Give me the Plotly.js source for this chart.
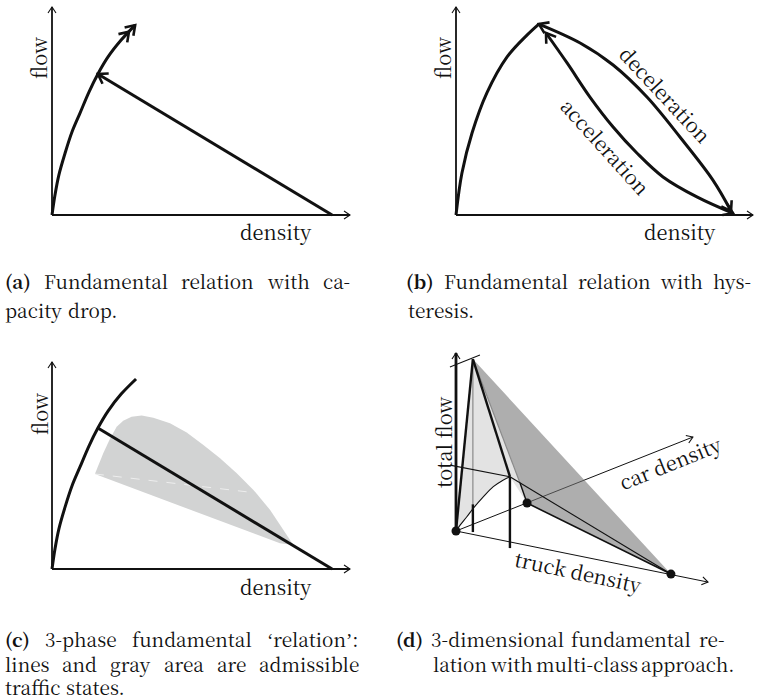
<!DOCTYPE html>
<html><head><meta charset="utf-8">
<script src="https://cdn.plot.ly/plotly-3.0.1.min.js"></script>
<style>html,body{margin:0;padding:0;background:#fff}</style>
</head><body><div id="chart" style="width:760px;height:700px"></div>
<script>
// ================= DATA (relative density / flow units) =================
// (a) capacity drop
const aFreeX = [0, 0.010, 0.023, 0.044, 0.067, 0.094, 0.124, 0.154, 0.188, 0.232, 0.279];
const aFreeY = [0, 0.096, 0.192, 0.298, 0.399, 0.490, 0.591, 0.678, 0.760, 0.841, 0.913];
const aCongX = [0.94, 0.154];
const aCongY = [0, 0.678];
// (b) hysteresis
const bFreeX = [0, 0.020, 0.054, 0.104, 0.172, 0.239, 0.279];
const bFreeY = [0, 0.202, 0.394, 0.587, 0.760, 0.865, 0.918];
const bDecelX = [0.279, 0.418, 0.529, 0.643, 0.754, 0.865, 0.926];
const bDecelY = [0.918, 0.827, 0.721, 0.567, 0.375, 0.168, 0.019];
const bAccelX = [0.933, 0.811, 0.697, 0.609, 0.529, 0.451, 0.374, 0.303];
const bAccelY = [0.008, 0.087, 0.183, 0.298, 0.423, 0.567, 0.731, 0.875];
// (c) 3-phase
const cFreeX = [0, 0.010, 0.023, 0.044, 0.067, 0.094, 0.124, 0.154, 0.188, 0.232, 0.282];
const cFreeY = [0, 0.097, 0.193, 0.300, 0.401, 0.493, 0.594, 0.681, 0.763, 0.845, 0.918];
const cCongX = [0.154, 0.94];
const cCongY = [0.681, 0];
const cAreaX = [0.144, 0.172, 0.195, 0.217, 0.239, 0.267, 0.301, 0.340, 0.396, 0.452, 0.508, 0.564, 0.620, 0.676, 0.732, 0.776, 0.810, 0.765, 0.144];
const cAreaY = [0.459, 0.559, 0.631, 0.687, 0.716, 0.736, 0.741, 0.731, 0.704, 0.659, 0.599, 0.535, 0.462, 0.382, 0.285, 0.188, 0.116, 0.124, 0.459];
const cSeamX = [0.144, 0.653];
const cSeamY = [0.459, 0.373];
// (d) multi-class, projected coordinates
const dPeak = [0.067, 0.966];
const dP2 = [0.214, 0.305];
const dQ = [0.254, 0.270];
const dC = [0.282, 0.157];
const dT = [0.853, -0.242];
const dCarEnd = [0.940, 0.528];
const dTruckEnd = [1.0, -0.287];
const dCurveX = [0, 0.017, 0.043, 0.069, 0.109, 0.148, 0.188, 0.214];
const dCurveY = [0, 0.034, 0.080, 0.128, 0.193, 0.249, 0.287, 0.305];
const dTickX = [-0.024, 0.095];
const dTickY = [0.921, 0.989];
const dGuideX = [-0.024, 0.214];
const dGuideY = [0.370, 0.305];
const dVert1 = {x: 0.067, top: 0.966, mid: 0.15, bot: -0.006};
const dVert2 = {x: 0.214, top: 0.305, bot: -0.096};

// text (each caption line is a list of words)
const Q1 = '<span style="font-family:serif">\u2018</span>';
const Q2 = '<span style="font-family:serif">\u2019</span>';
const capA = [['<b>(a)</b>', 'Fundamental', 'relation', 'with', 'ca-'], ['pacity', 'drop.']];
const capB = [['<b>(b)</b>', 'Fundamental', 'relation', 'with', 'hys-'], ['teresis.']];
const capC = [['<b>(c)</b>', '3-phase', 'fundamental', Q1 + 'relation' + Q2 + ':'], ['lines', 'and', 'gray', 'area', 'are', 'admissible'], ['traffic', 'states.']];
const capD = [['<b>(d)</b>', '3-dimensional', 'fundamental', 're-'], ['lation', 'with', 'multi-class', 'approach.']];

// ================= LAYOUT HELPERS =================
const W = 760, H = 700;
const FONT = 'Noto Serif CJK SC';
const BLACK = '#111111';
const P = {
  a: {n: '', x0: 52, x1: 350, y0: 215, y1: 7, xr: [-0.03, 1.03], yr: [-0.05, 1.03]},
  b: {n: '2', x0: 456, x1: 753, y0: 215, y1: 7, xr: [-0.03, 1.02], yr: [-0.05, 1.03]},
  c: {n: '3', x0: 52, x1: 350, y0: 569, y1: 362, xr: [-0.03, 1.03], yr: [-0.05, 1.05]},
  d: {n: '4', x0: 456, x1: 708, y0: 531, y1: 353, xr: [-0.06, 1.06], yr: [-0.36, 1.05]}
};
Object.values(P).forEach(p => { p.sx = p.x1 - p.x0; p.sy = p.y0 - p.y1; });

const traces = [];
function line(pk, xs, ys, w, color, opts) {
  const p = P[pk]; opts = opts || {};
  traces.push({type: 'scatter', mode: 'lines', x: xs, y: ys, xaxis: 'x' + p.n, yaxis: 'y' + p.n,
    hoverinfo: 'skip', showlegend: false,
    line: {color: color || BLACK, width: w, shape: opts.shape || 'linear', dash: opts.dash || 'solid', smoothing: opts.smoothing || 1}});
}
function area(pk, xs, ys, color) {
  const p = P[pk];
  traces.push({type: 'scatter', mode: 'lines', x: xs, y: ys, xaxis: 'x' + p.n, yaxis: 'y' + p.n,
    hoverinfo: 'skip', showlegend: false, fill: 'toself', fillcolor: color, line: {width: 0, color: color}});
}
function dots(pk, xs, ys) {
  const p = P[pk];
  traces.push({type: 'scatter', mode: 'markers', x: xs, y: ys, xaxis: 'x' + p.n, yaxis: 'y' + p.n,
    hoverinfo: 'skip', showlegend: false, cliponaxis: false, marker: {size: 9, color: BLACK}});
}
function pointBack(pk, xs, ys, fromStart, back) {
  const p = P[pk];
  let X = xs.map(v => v * p.sx), Y = ys.map(v => v * p.sy);
  if (fromStart) { X = X.slice().reverse(); Y = Y.slice().reverse(); }
  let i = X.length - 1, cx = X[i], cy = Y[i], rem = back;
  while (rem > 0 && i > 0) {
    const dx = X[i - 1] - cx, dy = Y[i - 1] - cy, d = Math.hypot(dx, dy);
    if (d >= rem) { cx += dx * rem / d; cy += dy * rem / d; rem = 0; break; }
    rem -= d; i--; cx = X[i]; cy = Y[i];
  }
  return [cx, cy];
}
function arrow(pk, xs, ys, fromStart, back, len, half, w) {
  const p = P[pk];
  const tip = pointBack(pk, xs, ys, fromStart, back);
  const pre = pointBack(pk, xs, ys, fromStart, back + 8);
  let ux = tip[0] - pre[0], uy = tip[1] - pre[1];
  const d = Math.hypot(ux, uy); ux /= d; uy /= d;
  const bx = tip[0] - len * ux, by = tip[1] - len * uy;
  const nx = -uy, ny = ux;
  line(pk, [(bx + half * nx) / p.sx, tip[0] / p.sx, (bx - half * nx) / p.sx],
           [(by + half * ny) / p.sy, tip[1] / p.sy, (by - half * ny) / p.sy], w, BLACK);
}
const bigArrow = (pk, xs, ys, fromStart, back) => arrow(pk, xs, ys, fromStart, back || 0, 9, 6, 2.6);
const axArrow = (pk, xs, ys) => arrow(pk, xs, ys, false, 0, 6, 4, 1.1);

// ================= PANEL (a) =================
line('a', [0, 1], [0, 0], 1.8); axArrow('a', [0, 1], [0, 0]);
line('a', [0, 0], [0, 1], 1.8); axArrow('a', [0, 0], [0, 1]);
line('a', aFreeX, aFreeY, 3, BLACK, {shape: 'spline'});
line('a', aCongX, aCongY, 3);
bigArrow('a', aFreeX, aFreeY, false, 0);
bigArrow('a', aFreeX, aFreeY, false, 9);
bigArrow('a', aCongX, aCongY, false, 0);

// ================= PANEL (b) =================
line('b', [0, 1], [0, 0], 1.8); axArrow('b', [0, 1], [0, 0]);
line('b', [0, 0], [0, 1], 1.8); axArrow('b', [0, 0], [0, 1]);
line('b', bFreeX, bFreeY, 3, BLACK, {shape: 'spline'});
line('b', bDecelX, bDecelY, 3, BLACK, {shape: 'spline'});
line('b', bAccelX, bAccelY, 3, BLACK, {shape: 'spline'});
bigArrow('b', bDecelX, bDecelY, false, 0);
bigArrow('b', bDecelX, bDecelY, true, 0);
bigArrow('b', bAccelX, bAccelY, false, 0);
bigArrow('b', bAccelX, bAccelY, true, 0);

// ================= PANEL (c) =================
area('c', cAreaX, cAreaY, '#d2d3d3');
line('c', cSeamX, cSeamY, 1, 'rgba(255,255,255,0.6)', {dash: 'dash'});
line('c', [0, 1], [0, 0], 1.8); axArrow('c', [0, 1], [0, 0]);
line('c', [0, 0], [0, 1], 1.8); axArrow('c', [0, 0], [0, 1]);
line('c', cFreeX, cFreeY, 3, BLACK, {shape: 'spline'});
line('c', cCongX, cCongY, 3);

// ================= PANEL (d) =================
area('d', [0, dPeak[0], dQ[0], dC[0]].concat(dCurveX.slice().reverse()),
          [0, dPeak[1], dQ[1], dC[1]].concat(dCurveY.slice().reverse()), '#e3e3e3');
line('d', [0, dCarEnd[0]], [0, dCarEnd[1]], 1); axArrow('d', [0, dCarEnd[0]], [0, dCarEnd[1]]);
line('d', [0, dTruckEnd[0]], [0, dTruckEnd[1]], 1); axArrow('d', [0, dTruckEnd[0]], [0, dTruckEnd[1]]);
area('d', [dPeak[0], dT[0], dC[0], dQ[0], dPeak[0]], [dPeak[1], dT[1], dC[1], dQ[1], dPeak[1]], 'rgba(115,115,115,0.58)');
line('d', [dVert1.x, dVert1.x], [dVert1.top, dVert1.mid], 1.2, '#8a8a8a');
line('d', [dPeak[0], dQ[0]], [dPeak[1], dQ[1]], 1.2, '#8a8a8a');
line('d', [dQ[0], dC[0]], [dQ[1], dC[1]], 1.4);
line('d', [dC[0], dT[0]], [dC[1], dT[1]], 1.6);
line('d', [dP2[0], dT[0]], [dP2[1], dT[1]], 1.1);
line('d', dGuideX, dGuideY, 1.1);
line('d', dTickX, dTickY, 1.1);
line('d', dCurveX, dCurveY, 1.1, BLACK, {shape: 'spline'});
line('d', [0, dPeak[0]], [0, dPeak[1]], 2.4);
line('d', [dPeak[0], dP2[0]], [dPeak[1], dP2[1]], 2.4);
line('d', [dVert1.x, dVert1.x], [dVert1.mid, dVert1.bot], 2.4);
line('d', [dVert2.x, dVert2.x], [dVert2.top, dVert2.bot], 2.4);
line('d', [0, 0], [0, 1], 2.8); axArrow('d', [0, 0], [0, 1]);
dots('d', [0, dC[0], dT[0]], [0, dC[1], dT[1]]);

// ================= TEXT =================
const annotations = [];
const LFS = 20;
function label(text, xpx, ypx, angle) {
  annotations.push({xref: 'paper', yref: 'paper', x: xpx / W, y: 1 - ypx / H, xanchor: 'center', yanchor: 'middle',
    text: text, showarrow: false, borderpad: 0, textangle: angle || 0, font: {family: FONT, size: LFS, color: BLACK}});
}
label('flow', 39, 58, -90);
label('density', 276, 231);
label('flow', 443, 58, -90);
label('density', 680, 231);
label('deceleration', 666, 94, 47);
label('acceleration', 606, 146, 48);
label('flow', 39, 414, -90);
label('density', 276, 586);
label('total flow', 443, 442, -90);
label('car density', 670, 462, -22);
label('truck density', 579, 571, 12);

const CFS = 19;
const capLines = [];
function caption(lines, pos) {
  lines.forEach((words, k) => {
    const ps = pos[k];
    const idx = [];
    const approx = (ps.x1 ? ps.x1 - ps.x0 : words.join(' ').length * 9) / Math.max(words.length, 1);
    words.forEach((w, i) => {
      idx.push(annotations.length);
      annotations.push({xref: 'paper', yref: 'paper', x: (ps.x0 + i * approx) / W, y: 1 - (ps.base - 7) / H, xanchor: 'left', yanchor: 'middle',
        text: w, showarrow: false, borderpad: 0, font: {family: FONT, size: CFS, color: BLACK}});
    });
    capLines.push({idx: idx, x0: ps.x0, x1: ps.x1});
  });
}
caption(capA, [{x0: 4, x1: 349, base: 287}, {x0: 4, base: 316}]);
caption(capB, [{x0: 405, x1: 750, base: 287}, {x0: 407, base: 316}]);
caption(capC, [{x0: 4, x1: 358, base: 645}, {x0: 4, x1: 358, base: 670}, {x0: 4, base: 693}]);
caption(capD, [{x0: 395, x1: 723, base: 645}, {x0: 432, x1: 723, base: 670}]);

// ================= AXES =================
const layout = {width: W, height: H, margin: {l: 0, r: 0, t: 0, b: 0}, paper_bgcolor: '#fff', plot_bgcolor: 'rgba(0,0,0,0)',
  showlegend: false, annotations: annotations, hovermode: false, font: {family: FONT}};
Object.values(P).forEach(p => {
  const dx = [(p.x0 + p.xr[0] * p.sx) / W, (p.x0 + p.xr[1] * p.sx) / W];
  const dy = [1 - (p.y0 - p.yr[0] * p.sy) / H, 1 - (p.y0 - p.yr[1] * p.sy) / H];
  layout['xaxis' + p.n] = {domain: dx, range: p.xr, visible: false, fixedrange: true, anchor: 'y' + p.n};
  layout['yaxis' + p.n] = {domain: dy, range: p.yr, visible: false, fixedrange: true, anchor: 'x' + p.n};
});
Plotly.newPlot('chart', traces, layout, {staticPlot: true, displayModeBar: false}).then(gd => {
  // justify caption words using the rendered widths
  const upd = {};
  const space = CFS * 0.3;
  capLines.forEach(L => {
    const ws = L.idx.map(i => {
      const t = gd.querySelector('.annotation[data-index="' + i + '"] text');
      return t ? t.getBBox().width : null;
    });
    if (ws.some(w => w == null)) return;
    const sum = ws.reduce((s, v) => s + v, 0);
    const n = ws.length;
    const gap = (L.x1 && n > 1) ? Math.max((L.x1 - L.x0 - sum) / (n - 1), 3) : space;
    let x = L.x0;
    L.idx.forEach((i, k) => { upd['annotations[' + i + '].x'] = x / W; x += ws[k] + gap; });
  });
  return Plotly.relayout(gd, upd);
});
</script>
</body></html>
